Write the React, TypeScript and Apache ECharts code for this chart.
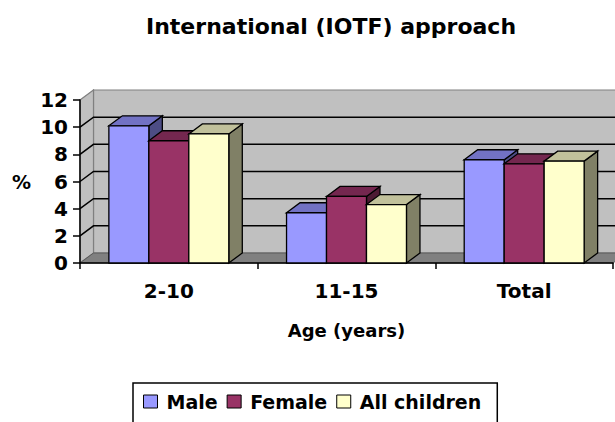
import React, { useEffect, useRef } from 'react';
import * as echarts from 'echarts';

const categories = ['2-10', '11-15', 'Total'];
const male = [10.1, 3.7, 7.6];
const female = [9.0, 4.9, 7.3];
const allChildren = [9.5, 4.3, 7.5];
const seriesNames = ['Male', 'Female', 'All children'];
const yTicks = [0, 2, 4, 6, 8, 10, 12];

const FONT = 'DejaVu Sans';
const DX = 13.5;
const DY = -10;

const palettes = [
  { front: '#9999FF', top: '#7272C4', side: '#4D4D85' },
  { front: '#993366', top: '#74274F', side: '#4D1A33' },
  { front: '#FFFFCC', top: '#C1C19B', side: '#808066' },
];

function makeBarRender(sIdx: number) {
  return (params: any, api: any) => {
    const cat = api.value(0);
    const val = api.value(1);
    const base = api.coord([cat, 0]);
    const top = api.coord([cat, val]);
    const catW = api.size([1, 0])[0];
    const bw = catW * 0.225;
    const x0 = base[0] + (sIdx - 1.5) * bw;
    const x1 = x0 + bw;
    const yb = base[1];
    const yt = top[1];
    const p = palettes[sIdx];
    const st = { stroke: '#000', lineWidth: 1.3 };
    return {
      type: 'group',
      children: [
        { type: 'polygon', shape: { points: [[x1, yt], [x1 + DX, yt + DY], [x1 + DX, yb + DY], [x1, yb]] }, style: { fill: p.side, ...st } },
        { type: 'polygon', shape: { points: [[x0, yt], [x0 + DX, yt + DY], [x1 + DX, yt + DY], [x1, yt]] }, style: { fill: p.top, ...st } },
        { type: 'rect', shape: { x: x0, y: yt, width: bw, height: yb - yt }, style: { fill: p.front, ...st } },
      ],
    };
  };
}

const wallRender = (params: any, api: any) => {
  const cs = params.coordSys;
  const xL = cs.x;
  const xR = cs.x + cs.width;
  const yB = cs.y + cs.height;
  const yT = cs.y;
  const children: any[] = [
    { type: 'polygon', shape: { points: [[xL + DX, yT + DY], [xR + DX, yT + DY], [xR + DX, yB + DY], [xL + DX, yB + DY]] }, style: { fill: '#C0C0C0', stroke: '#808080', lineWidth: 1.2 } },
    { type: 'polygon', shape: { points: [[xL, yT], [xL + DX, yT + DY], [xL + DX, yB + DY], [xL, yB]] }, style: { fill: '#C0C0C0', stroke: '#808080', lineWidth: 1.2 } },
    { type: 'polygon', shape: { points: [[xL, yB], [xL + DX, yB + DY], [xR + DX, yB + DY], [xR, yB]] }, style: { fill: '#808080', stroke: '#5a5a5a', lineWidth: 1 } },
  ];
  yTicks.forEach((t, i) => {
    if (i === 0 || i === yTicks.length - 1) return;
    const y = api.coord([0, t])[1];
    children.push({ type: 'polyline', shape: { points: [[xL, y], [xL + DX, y + DY], [xR + DX, y + DY]] }, style: { stroke: '#000', lineWidth: 1.5, fill: null } });
  });
  return { type: 'group', children };
};

export default function App() {
  const ref = useRef<HTMLDivElement>(null);
  useEffect(() => {
    if (!ref.current) return;
    const chart = echarts.init(ref.current, undefined, { renderer: 'svg' });
    const seriesData = [male, female, allChildren];
    chart.setOption({
      animation: false,
      backgroundColor: '#fff',
      title: {
        text: 'International (IOTF) approach',
        left: 146,
        top: 15,
        padding: 0,
        textStyle: { fontFamily: FONT, fontWeight: 'bold', fontSize: 22, color: '#000' },
      },
      legend: {
        data: seriesNames,
        left: 133,
        top: 383,
        itemWidth: 14,
        itemHeight: 13,
        itemGap: 9,
        padding: [9, 16, 30, 10],
        borderColor: '#000',
        borderWidth: 1.5,
        icon: 'rect',
        itemStyle: { borderColor: '#000', borderWidth: 1 },
        textStyle: { fontFamily: FONT, fontWeight: 'bold', fontSize: 19, color: '#000', padding: [0, 0, 0, 4] },
      },
      grid: { left: 80, right: 2, top: 100, bottom: 159 },
      xAxis: {
        type: 'category',
        data: categories,
        name: 'Age (years)',
        nameLocation: 'middle',
        nameGap: 58,
        nameTextStyle: { fontFamily: FONT, fontWeight: 'bold', fontSize: 18, color: '#000' },
        axisLine: { show: true, lineStyle: { color: '#000', width: 1.5 } },
        axisTick: { show: true, alignWithLabel: false, length: 6, lineStyle: { color: '#000', width: 1.5 } },
        axisLabel: { margin: 18, fontFamily: FONT, fontWeight: 'bold', fontSize: 20, color: '#000' },
        splitLine: { show: false },
      },
      yAxis: {
        type: 'value',
        min: 0,
        max: 12,
        interval: 2,
        name: '%',
        nameLocation: 'middle',
        nameRotate: 0,
        nameGap: 49,
        nameTextStyle: { fontFamily: FONT, fontWeight: 'bold', fontSize: 19, color: '#000' },
        axisLine: { show: true, lineStyle: { color: '#000', width: 1.5 } },
        axisTick: { show: true, length: 7, lineStyle: { color: '#000', width: 1.5 } },
        axisLabel: { margin: 12, fontFamily: FONT, fontWeight: 'bold', fontSize: 20, color: '#000' },
        splitLine: { show: false },
      },
      series: [
        {
          type: 'custom',
          name: '__walls',
          silent: true,
          z: 0,
          clip: false,
          data: [[0, 0]],
          encode: { x: 0, y: 1 },
          renderItem: wallRender,
        },
        ...seriesNames.map((n, s) => ({
          type: 'custom',
          name: n,
          z: 2,
          clip: false,
          itemStyle: { color: palettes[s].front, borderColor: '#000', borderWidth: 1 },
          data: seriesData[s].map((v, i) => [i, v]),
          encode: { x: 0, y: 1 },
          renderItem: makeBarRender(s),
        })),
      ],
    });
    return () => chart.dispose();
  }, []);
  return <div ref={ref} style={{ position: 'fixed', left: 0, top: 0, width: 615, height: 422 }} />;
}
